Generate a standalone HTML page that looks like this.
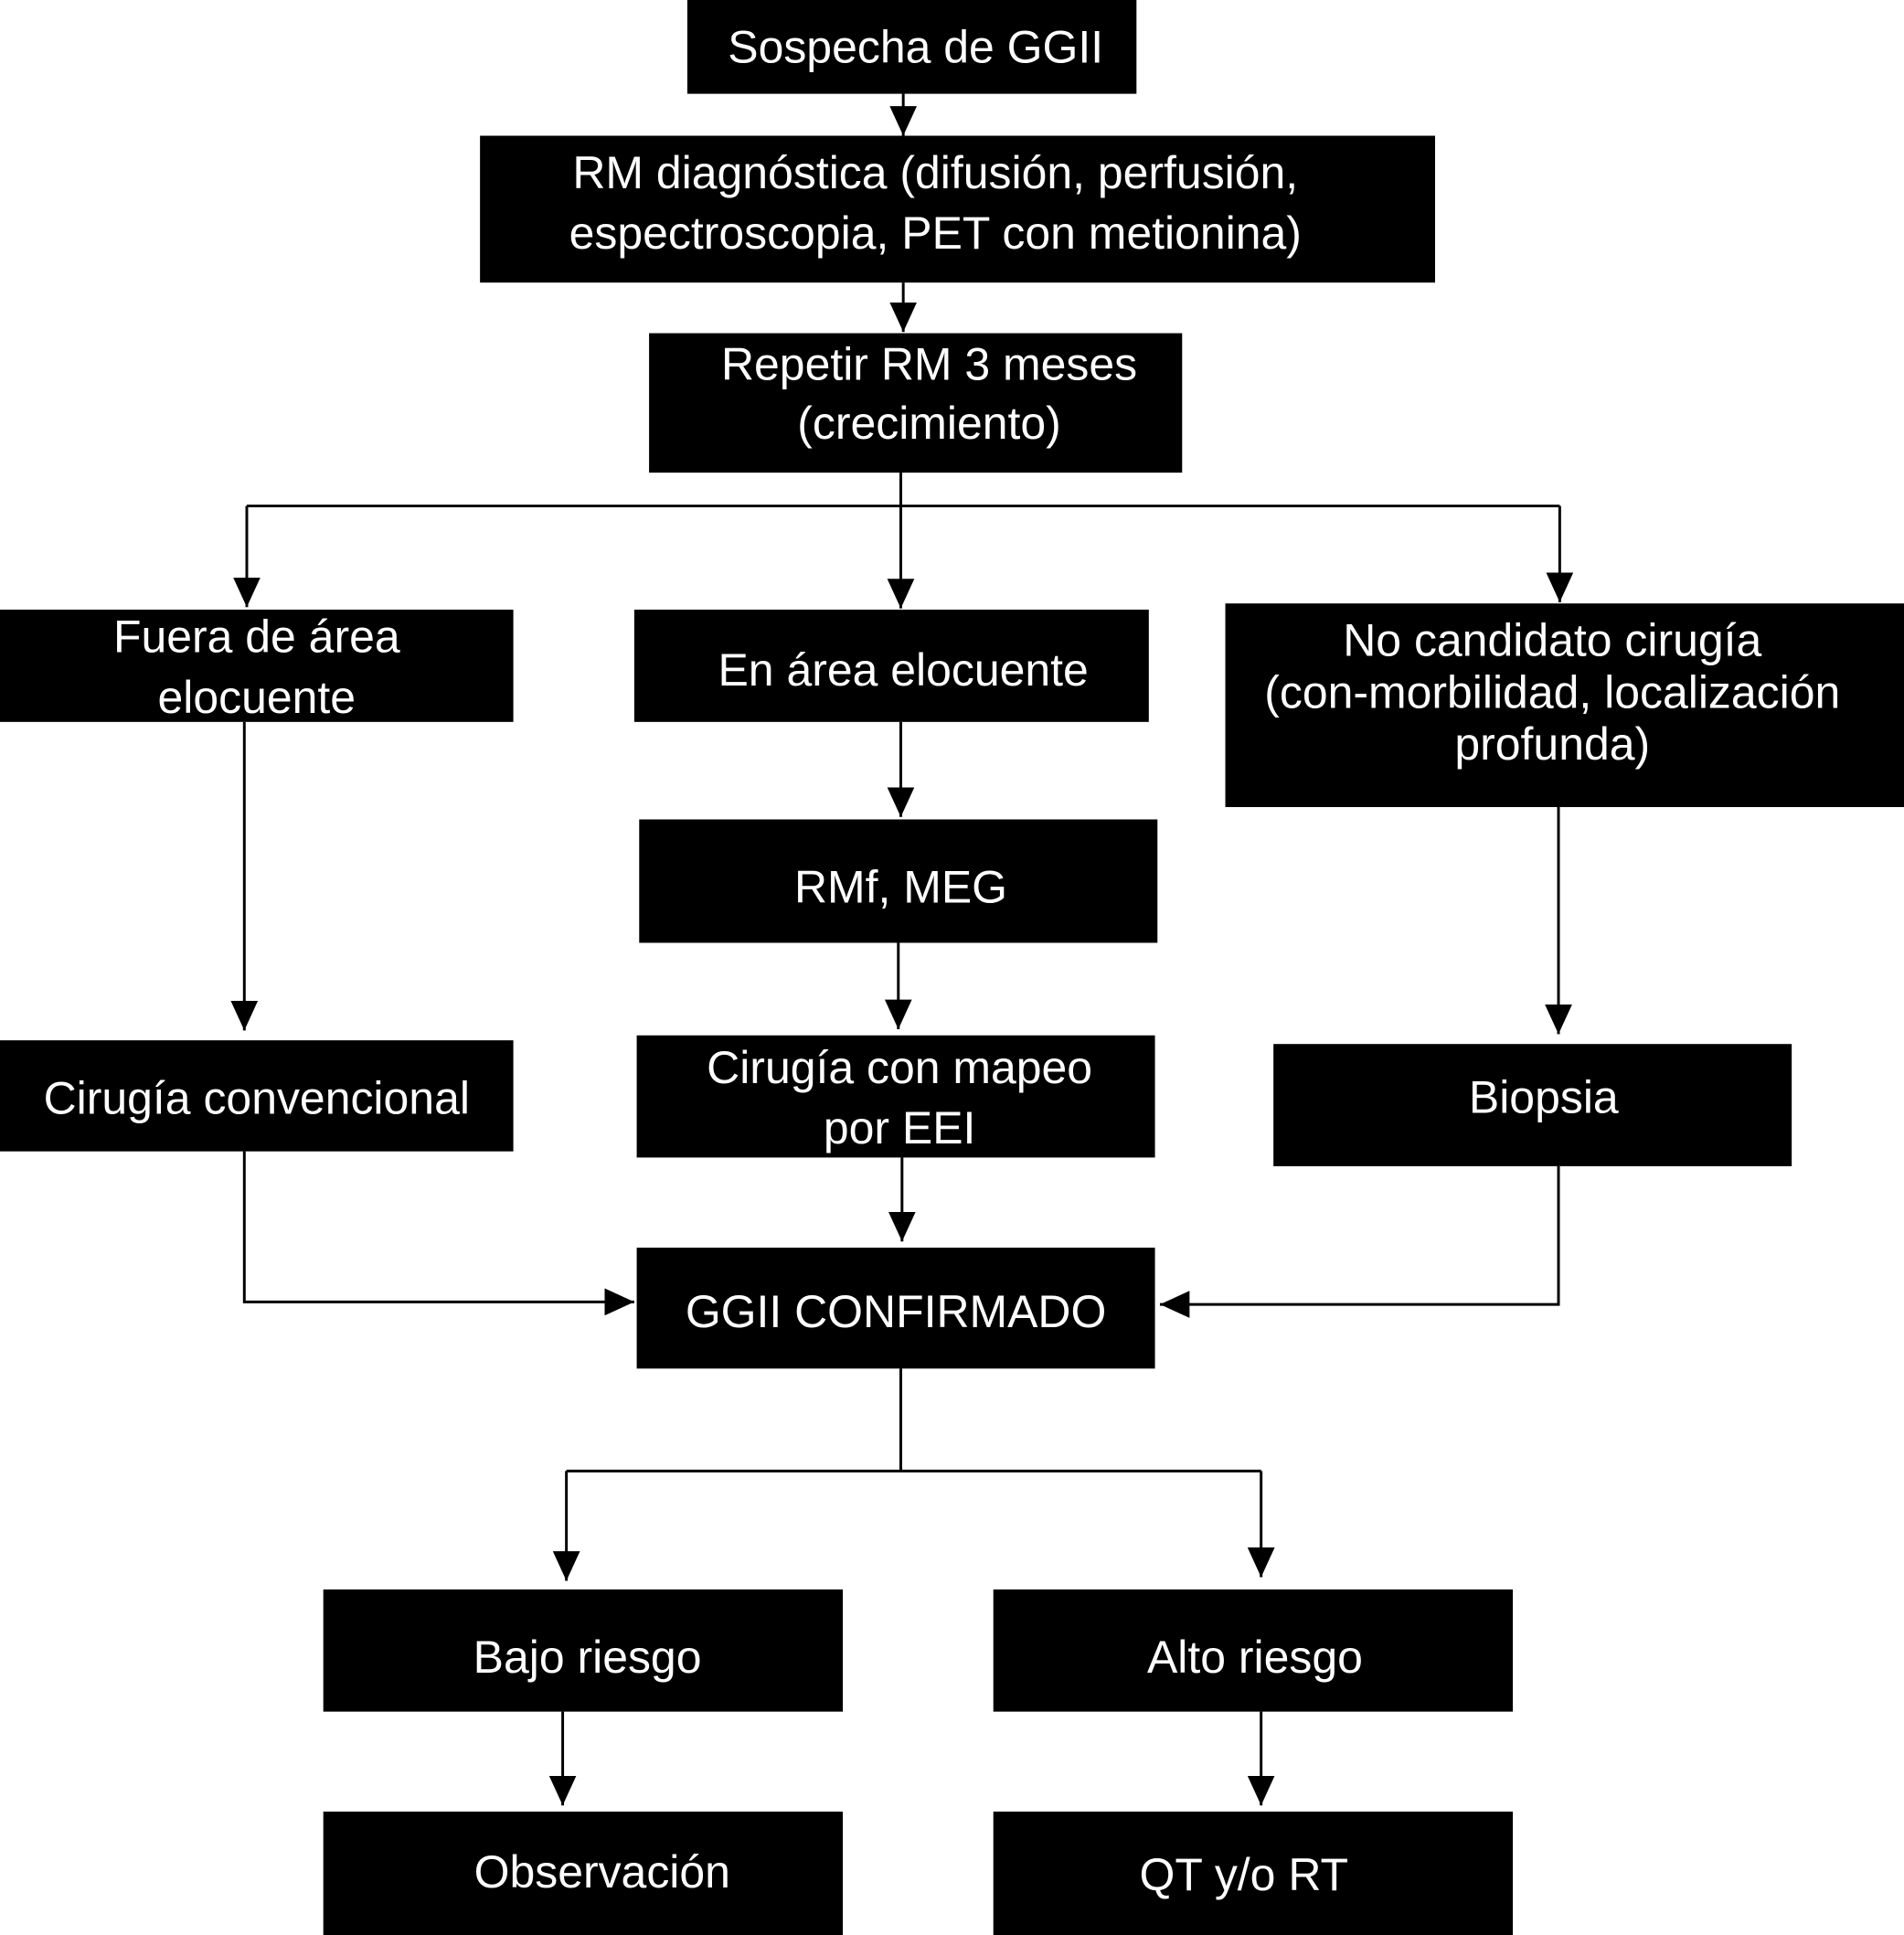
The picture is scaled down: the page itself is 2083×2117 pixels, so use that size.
<!DOCTYPE html>
<html><head><meta charset="utf-8">
<style>
html,body{margin:0;padding:0;background:#fff;}
svg{display:block;}
text{font-family:"Liberation Sans",Arial,sans-serif;font-size:37px;fill:#fff;text-anchor:middle;dominant-baseline:central;}
</style></head>
<body>
<svg width="2083" height="2117" viewBox="0 0 1543 1568" preserveAspectRatio="none" xmlns="http://www.w3.org/2000/svg">
<defs>
<marker id="a" viewBox="0 0 24 22" refX="24" refY="11" markerWidth="24" markerHeight="22" markerUnits="userSpaceOnUse" orient="auto">
<path d="M0,0 L24,11 L0,22 z" fill="#000"/>
</marker>
</defs>
<g stroke="#000" stroke-width="2.2" fill="none">
<line x1="732" y1="76" x2="732" y2="110" marker-end="url(#a)"/>
<line x1="732" y1="229" x2="732" y2="269" marker-end="url(#a)"/>
<polyline points="730,383 730,410"/>
<line x1="200" y1="410" x2="1264" y2="410"/>
<line x1="200" y1="410" x2="200" y2="492" marker-end="url(#a)"/>
<line x1="730" y1="410" x2="730" y2="493" marker-end="url(#a)"/>
<line x1="1264" y1="410" x2="1264" y2="488" marker-end="url(#a)"/>
<line x1="198" y1="585" x2="198" y2="835" marker-end="url(#a)"/>
<line x1="730" y1="585" x2="730" y2="662" marker-end="url(#a)"/>
<line x1="728" y1="764" x2="728" y2="834" marker-end="url(#a)"/>
<line x1="1263" y1="654" x2="1263" y2="838" marker-end="url(#a)"/>
<line x1="731" y1="938" x2="731" y2="1006" marker-end="url(#a)"/>
<polyline points="198,933 198,1055 514,1055" marker-end="url(#a)"/>
<polyline points="1263,945 1263,1057 940,1057" marker-end="url(#a)"/>
<line x1="730" y1="1109" x2="730" y2="1192"/>
<line x1="459" y1="1192" x2="1022" y2="1192"/>
<line x1="459" y1="1192" x2="459" y2="1281" marker-end="url(#a)"/>
<line x1="1022" y1="1192" x2="1022" y2="1278" marker-end="url(#a)"/>
<line x1="456" y1="1387" x2="456" y2="1463" marker-end="url(#a)"/>
<line x1="1022" y1="1387" x2="1022" y2="1463" marker-end="url(#a)"/>
</g>
<g fill="#000">
<rect x="557" y="0" width="364" height="76"/>
<rect x="389" y="110" width="774" height="119"/>
<rect x="526" y="270" width="432" height="113"/>
<rect x="0" y="494" width="416" height="91"/>
<rect x="514" y="494" width="417" height="91"/>
<rect x="993" y="489" width="550" height="165"/>
<rect x="518" y="664" width="420" height="100"/>
<rect x="0" y="843" width="416" height="90"/>
<rect x="516" y="839" width="420" height="99"/>
<rect x="1032" y="846" width="420" height="99"/>
<rect x="516" y="1011" width="420" height="98"/>
<rect x="262" y="1288" width="421" height="99"/>
<rect x="805" y="1288" width="421" height="99"/>
<rect x="262" y="1468" width="421" height="100"/>
<rect x="805" y="1468" width="421" height="100"/>
</g>
<text x="742" y="38">Sospecha de GGII</text>
<text x="758" y="140">RM diagnóstica (difusión, perfusión,</text>
<text x="758" y="189">espectroscopia, PET con metionina)</text>
<text x="753" y="295">Repetir RM 3 meses</text>
<text x="753" y="343">(crecimiento)</text>
<text x="208" y="516">Fuera de área</text>
<text x="208" y="565">elocuente</text>
<text x="732" y="543">En área elocuente</text>
<text x="1258" y="519">No candidato cirugía</text>
<text x="1258" y="561">(con-morbilidad, localización</text>
<text x="1258" y="603">profunda)</text>
<text x="730" y="719">RMf, MEG</text>
<text x="208" y="890">Cirugía convencional</text>
<text x="729" y="865">Cirugía con mapeo</text>
<text x="729" y="914">por EEI</text>
<text x="1251" y="889">Biopsia</text>
<text x="726" y="1063">GGII CONFIRMADO</text>
<text x="476" y="1343">Bajo riesgo</text>
<text x="1017" y="1343">Alto riesgo</text>
<text x="488" y="1517">Observación</text>
<text x="1008" y="1519">QT y/o RT</text>
</svg>
</body></html>
